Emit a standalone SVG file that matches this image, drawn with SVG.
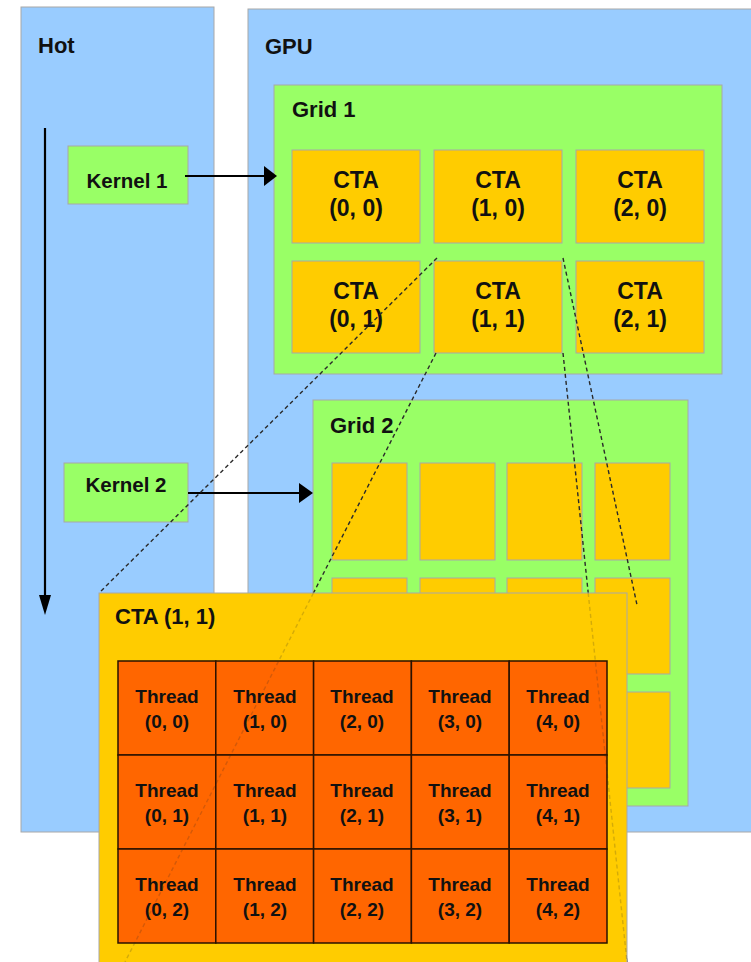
<svg xmlns="http://www.w3.org/2000/svg" width="751" height="962" viewBox="0 0 751 962">
<defs>
<style>
.blue{fill:#99CCFF;stroke:#A8A8A8;stroke-width:1}
.green{fill:#99FF66;stroke:#A8A8A8;stroke-width:1}
.cta{fill:#FFCC00;stroke:#A8A8A8;stroke-width:1}
.thr{fill:#FF6600;stroke:#2A1200;stroke-width:1.5}
text{font-family:"Liberation Sans",Arial,sans-serif;fill:#111}
.h{font-size:22px;font-weight:bold}
.c{font-size:23px;font-weight:bold;text-anchor:middle}
.k{font-size:20.5px;font-weight:bold;text-anchor:middle}
.t{font-size:19px;font-weight:bold;text-anchor:middle}
.line{stroke:#000;stroke-width:2.2;fill:none}
.head{fill:#000}
.dash{stroke:#2A2A2A;stroke-width:1.4;stroke-dasharray:4 3;fill:none}
.faint{opacity:0.2}
</style>
</defs>
<rect width="751" height="962" fill="#FFFFFF"/>

<g id="host">
<rect class="blue" x="21" y="7" width="193" height="825"/>
<text class="h" x="38" y="53">Hot</text>
</g>

<g id="gpu">
<rect class="blue" x="248" y="9" width="520" height="823"/>
<text class="h" x="265" y="54">GPU</text>
</g>

<g id="kernel1">
<rect class="green" x="68" y="146" width="120" height="58"/>
<text class="k" x="127" y="188">Kernel 1</text>
</g>

<g id="kernel2">
<rect class="green" x="64" y="463" width="124" height="59"/>
<text class="k" x="126" y="492">Kernel 2</text>
</g>

<g id="grid1">
<rect class="green" x="274" y="85" width="448" height="289"/>
<text class="h" x="292" y="117">Grid 1</text>
<g id="cta-0-0"><rect class="cta" x="292" y="150" width="128" height="93"/><text class="c" x="356" y="188">CTA</text><text class="c" x="356" y="216">(0, 0)</text></g>
<g id="cta-1-0"><rect class="cta" x="434" y="150" width="128" height="93"/><text class="c" x="498" y="188">CTA</text><text class="c" x="498" y="216">(1, 0)</text></g>
<g id="cta-2-0"><rect class="cta" x="576" y="150" width="128" height="93"/><text class="c" x="640" y="188">CTA</text><text class="c" x="640" y="216">(2, 0)</text></g>
<g id="cta-0-1"><rect class="cta" x="292" y="261" width="128" height="92"/><text class="c" x="356" y="299">CTA</text><text class="c" x="356" y="327">(0, 1)</text></g>
<g id="cta-1-1"><rect class="cta" x="434" y="261" width="128" height="92"/><text class="c" x="498" y="299">CTA</text><text class="c" x="498" y="327">(1, 1)</text></g>
<g id="cta-2-1"><rect class="cta" x="576" y="261" width="128" height="92"/><text class="c" x="640" y="299">CTA</text><text class="c" x="640" y="327">(2, 1)</text></g>
</g>

<g id="grid2">
<rect class="green" x="313" y="400" width="375" height="406"/>
<text class="h" x="330" y="433">Grid 2</text>
<rect class="cta" x="332" y="463" width="75" height="97"/>
<rect class="cta" x="420" y="463" width="75" height="97"/>
<rect class="cta" x="507" y="463" width="75" height="97"/>
<rect class="cta" x="595" y="463" width="75" height="97"/>
<rect class="cta" x="332" y="578" width="75" height="96"/>
<rect class="cta" x="420" y="578" width="75" height="96"/>
<rect class="cta" x="507" y="578" width="75" height="96"/>
<rect class="cta" x="595" y="578" width="75" height="96"/>
<rect class="cta" x="332" y="692" width="75" height="96"/>
<rect class="cta" x="420" y="692" width="75" height="96"/>
<rect class="cta" x="507" y="692" width="75" height="96"/>
<rect class="cta" x="595" y="692" width="75" height="96"/>
</g>

<g id="connectors">
<line class="line" x1="45" y1="128" x2="45" y2="597"/>
<polygon class="head" points="39,595 51,595 45,615"/>
<line class="line" x1="185" y1="176" x2="265" y2="176"/>
<polygon class="head" points="264,166 264,186 277,176"/>
<line class="line" x1="188" y1="493" x2="300" y2="493"/>
<polygon class="head" points="299,483 299,503 313,493"/>
<line class="dash" x1="437" y1="258" x2="99" y2="593"/>
<line class="dash" x1="436" y1="353" x2="125" y2="962"/>
<line class="dash" x1="563" y1="258" x2="637" y2="605"/>
<line class="dash" x1="563" y1="353" x2="627" y2="962"/>
</g>

<g id="cta-detail">
<rect class="cta" x="99" y="593" width="528" height="420"/>
<text class="h" x="115" y="624">CTA (1, 1)</text>
<g id="threads">
<rect class="thr" x="118" y="661" width="97.8" height="94"/>
<rect class="thr" x="215.8" y="661" width="97.8" height="94"/>
<rect class="thr" x="313.6" y="661" width="97.8" height="94"/>
<rect class="thr" x="411.4" y="661" width="97.8" height="94"/>
<rect class="thr" x="509.2" y="661" width="97.8" height="94"/>
<rect class="thr" x="118" y="755" width="97.8" height="94"/>
<rect class="thr" x="215.8" y="755" width="97.8" height="94"/>
<rect class="thr" x="313.6" y="755" width="97.8" height="94"/>
<rect class="thr" x="411.4" y="755" width="97.8" height="94"/>
<rect class="thr" x="509.2" y="755" width="97.8" height="94"/>
<rect class="thr" x="118" y="849" width="97.8" height="94"/>
<rect class="thr" x="215.8" y="849" width="97.8" height="94"/>
<rect class="thr" x="313.6" y="849" width="97.8" height="94"/>
<rect class="thr" x="411.4" y="849" width="97.8" height="94"/>
<rect class="thr" x="509.2" y="849" width="97.8" height="94"/>
<text class="t" x="167" y="703">Thread</text><text class="t" x="167" y="728">(0, 0)</text>
<text class="t" x="265" y="703">Thread</text><text class="t" x="265" y="728">(1, 0)</text>
<text class="t" x="362" y="703">Thread</text><text class="t" x="362" y="728">(2, 0)</text>
<text class="t" x="460" y="703">Thread</text><text class="t" x="460" y="728">(3, 0)</text>
<text class="t" x="558" y="703">Thread</text><text class="t" x="558" y="728">(4, 0)</text>
<text class="t" x="167" y="797">Thread</text><text class="t" x="167" y="822">(0, 1)</text>
<text class="t" x="265" y="797">Thread</text><text class="t" x="265" y="822">(1, 1)</text>
<text class="t" x="362" y="797">Thread</text><text class="t" x="362" y="822">(2, 1)</text>
<text class="t" x="460" y="797">Thread</text><text class="t" x="460" y="822">(3, 1)</text>
<text class="t" x="558" y="797">Thread</text><text class="t" x="558" y="822">(4, 1)</text>
<text class="t" x="167" y="891">Thread</text><text class="t" x="167" y="916">(0, 2)</text>
<text class="t" x="265" y="891">Thread</text><text class="t" x="265" y="916">(1, 2)</text>
<text class="t" x="362" y="891">Thread</text><text class="t" x="362" y="916">(2, 2)</text>
<text class="t" x="460" y="891">Thread</text><text class="t" x="460" y="916">(3, 2)</text>
<text class="t" x="558" y="891">Thread</text><text class="t" x="558" y="916">(4, 2)</text>
</g>
</g>

<g id="connectors-overlay" class="faint">
<line class="dash" x1="313.4" y1="593" x2="125" y2="962"/>
<line class="dash" x1="588.2" y1="593" x2="627" y2="962"/>
</g>
</svg>
